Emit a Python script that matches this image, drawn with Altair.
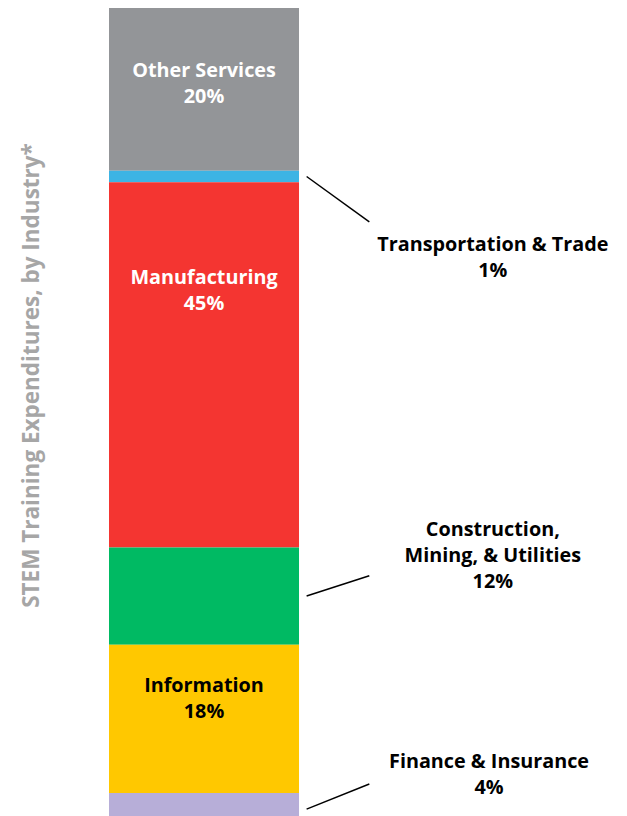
import altair as alt
import pandas as pd

# ---- data (top of bar to bottom) ----
industries = ["Other Services", "Transportation & Trade", "Manufacturing",
              "Construction,\nMining, & Utilities", "Information", "Finance & Insurance"]
shares = [20.1, 1.4, 45.1, 12.0, 18.3, 4.0]
colors = ["#939598", "#3DB4E4", "#F43531", "#00BA63", "#FFC800", "#B7AED8"]
title_text = "STEM Training Expenditures, by Industry*"

# ---- annotation layout (x: bar widths, y: percent from top) ----
label_colors = ["white", "black", "white", "black", "black", "black"]
label_x = [0.5, 2.02, 0.5, 2.02, 0.5, 2.0]
label_y = [7.78, 29.26, 33.33, 64.44, 83.7, 93.09]
leader_x0 = 1.04
leader_x1 = 1.37
leader_end_y = [None, 26.4, None, 70.1, None, 95.8]

df = pd.DataFrame({"industry": industries, "share": shares, "color": colors})
df["end"] = df["share"].cumsum()
df["start"] = df["end"] - df["share"]
df["mid"] = (df["start"] + df["end"]) / 2
df["x0"] = 0.0
df["x1"] = 1.0
df["label"] = [f"{n}\n{round(s):.0f}%" for n, s in zip(industries, shares)]
df["lx"] = label_x
df["ly"] = label_y
df["lcolor"] = label_colors
df["ex"] = leader_x1
df["sx"] = leader_x0
df["ey"] = leader_end_y

FONT = "Open Sans"
xs = alt.Scale(domain=[0, 2.684])
ys = alt.Scale(domain=[0, 99.75], reverse=True)

bars = alt.Chart(df).mark_rect(clip=True).encode(
    x=alt.X("x0:Q", scale=xs, axis=None),
    x2="x1:Q",
    y=alt.Y("start:Q", scale=ys, axis=alt.Axis(
        title=title_text, labels=False, ticks=False, domain=False, grid=False,
        titleFont=FONT, titleFontSize=22.5, titleFontWeight="bold",
        titleColor="#A6A6A6", titlePadding=66, titleY=367)),
    y2="end:Q",
    color=alt.Color("color:N", scale=None),
)

labels = alt.Chart(df).mark_text(
    font=FONT, fontSize=19.8, fontWeight="bold", lineBreak="\n",
    lineHeight=26, align="center", baseline="middle"
).encode(
    x=alt.X("lx:Q", scale=xs),
    y=alt.Y("ly:Q", scale=ys),
    text="label:N",
    color=alt.Color("lcolor:N", scale=None),
)

leaders = alt.Chart(df).transform_filter("datum.ey != null").mark_rule(
    color="black", strokeWidth=1.5
).encode(
    x=alt.X("sx:Q", scale=xs),
    y=alt.Y("mid:Q", scale=ys),
    x2="ex:Q",
    y2="ey:Q",
)

chart = alt.layer(bars, leaders, labels).properties(
    width=510, height=808,
    autosize=alt.AutoSizeParams(type="none"),
    padding={"left": 101, "top": 0, "right": 0, "bottom": 0},
).configure_view(stroke=None)

chart.save("out.html", embed_options={"renderer": "svg", "actions": False})
